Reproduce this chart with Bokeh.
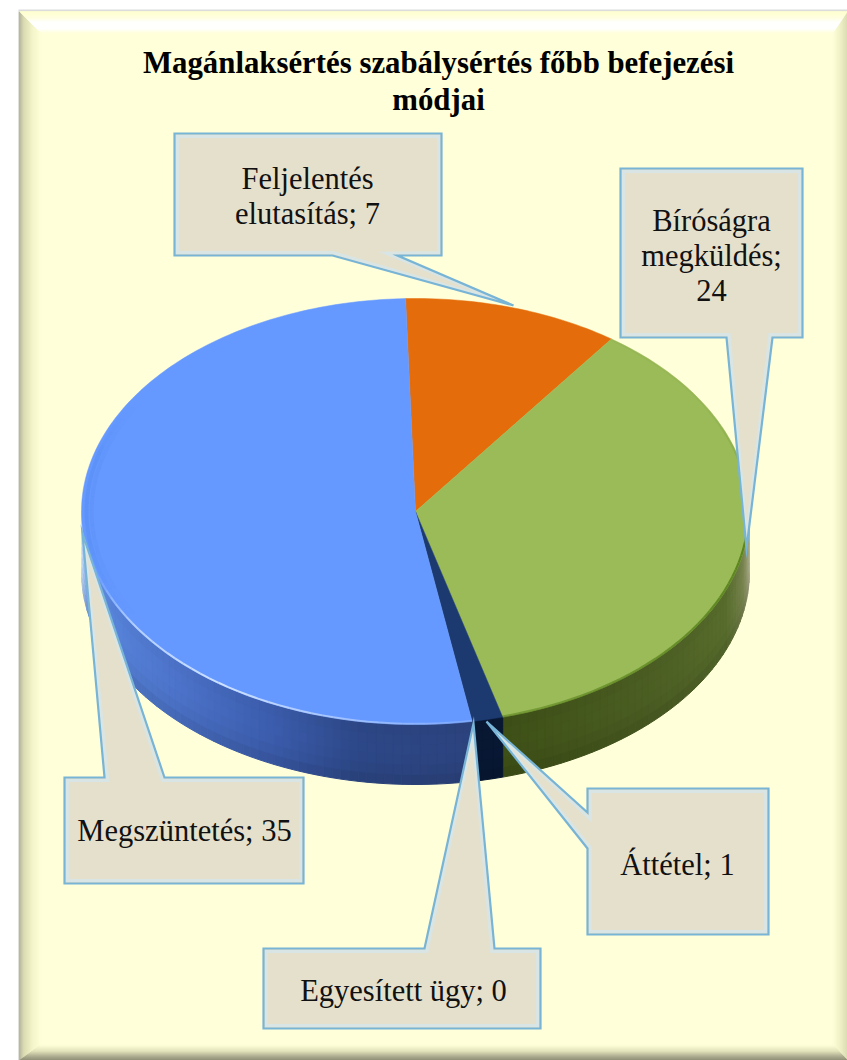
import numpy as np
from bokeh.plotting import figure
from bokeh.models import Range1d
from bokeh.core.properties import value
from bokeh.embed import file_html
from bokeh.resources import INLINE

title_lines = ["Magánlaksértés szabálysértés főbb befejezési", "módjai"]
categories = ["Feljelentés elutasítás", "Bíróságra megküldés", "Áttétel", "Egyesített ügy", "Megszüntetés"]
values = [7, 24, 1, 0, 35]
label_lines = [["Feljelentés", "elutasítás; 7"], ["Bíróságra", "megküldés;", "24"], ["Áttétel; 1"],
               ["Egyesített ügy; 0"], ["Megszüntetés; 35"]]
top_colors = ["#E46C0A", "#9BBB59", "#1C3A70", "#1C3A70", "#6699FF"]

W, H = 847, 1060
p = figure(width=W, height=H, x_range=Range1d(0, W), y_range=Range1d(H, 0),
           output_backend="svg", toolbar_location=None, min_border=0)
p.axis.visible = False
p.grid.visible = False
p.outline_line_color = None
p.background_fill_color = "#FFFFFF"
p.border_fill_color = "#FFFFFF"


def hex2rgb(c):
    return np.array([int(c[i:i + 2], 16) for i in (1, 3, 5)], float)


def rgb2hex(a):
    a = np.clip(np.round(a), 0, 255).astype(int)
    return "#%02X%02X%02X" % tuple(a)


def ramp(stops, pos):
    xs = [s[0] for s in stops]
    cs = np.array([hex2rgb(s[1]) for s in stops])
    return np.array([np.interp(pos, xs, cs[:, k]) for k in range(3)])


# ---- chart area with bevelled frame
L, T, R, B = 19.0, 11.0, 847.0, 1060.0
BODY = "#FFFFD9"
p.quad(left=[L], right=[R], top=[T], bottom=[B], fill_color=BODY, line_color=None)
p.quad(left=[L - 1], right=[R], top=[T - 2], bottom=[T], fill_color="#DCDCDC", line_color=None)
p.quad(left=[L - 1], right=[L + 1], top=[T], bottom=[B], fill_color="#C4C4B8", line_color=None)

wid = {"top": 22, "left": 22, "right": 15, "bottom": 16}
ramps = {
    "top": [(0, "#FFFFCC"), (.30, "#FFFFE0"), (.5, "#FFFFFF"), (.8, "#FFFFFF"), (1, BODY)],
    "left": [(0, "#B0B09A"), (.2, "#D8D8B0"), (.6, "#F4F4C8"), (1, BODY)],
    "right": [(0, "#D8D8B0"), (.5, "#EFEFC4"), (1, BODY)],
    "bottom": [(0, "#85856E"), (.25, "#A5A58A"), (.6, "#E0E0B8"), (1, BODY)],
}
bx, by, bc = [], [], []
for side in ("left", "right", "bottom", "top"):
    n = wid[side]
    for i in range(n):
        f0, f1 = i / n, (i + 1) / n
        c = rgb2hex(ramp(ramps[side], (i + .5) / n))
        a0, a1 = {k: wid[k] * f0 for k in wid}, {k: wid[k] * f1 for k in wid}
        if side == "top":
            xs = [L + a0["left"], R - a0["right"], R - a1["right"], L + a1["left"]]
            ys = [T + a0["top"], T + a0["top"], T + a1["top"], T + a1["top"]]
        elif side == "bottom":
            xs = [L + a0["left"], R - a0["right"], R - a1["right"], L + a1["left"]]
            ys = [B - a0["bottom"], B - a0["bottom"], B - a1["bottom"], B - a1["bottom"]]
        elif side == "left":
            xs = [L + a0["left"], L + a1["left"], L + a1["left"], L + a0["left"]]
            ys = [T + a0["top"], T + a1["top"], B - a1["bottom"], B - a0["bottom"]]
        else:
            xs = [R - a0["right"], R - a1["right"], R - a1["right"], R - a0["right"]]
            ys = [T + a0["top"], T + a1["top"], B - a1["bottom"], B - a0["bottom"]]
        bx.append(xs); by.append(ys); bc.append(c)
p.patches(bx, by, fill_color=bc, line_color=bc, line_width=.6)

# ---- pie geometry, driven by the values
CX, CY, RX, RY, DEPTH = 415.0, 511.0, 334.0, 213.0, 60.0
START = -1.7
total = sum(values)
edges = START + np.concatenate([[0], np.cumsum(values)]) * 360.0 / total


def ex(t, s=1.0):
    return CX + s * RX * np.sin(np.radians(t))


def ey(t, s=1.0):
    return CY - s * RY * np.cos(np.radians(t))


wall_ramps = [
    None,
    [(90, "#D0D0B8"), (94, "#A8A888"), (102, "#74804C"), (112, "#566A2C"), (135, "#4A5C22"), (165, "#3C4E16")],
    [(0, "#081732"), (360, "#081732")],
    [(0, "#081732"), (360, "#081732")],
    [(165, "#2A4078"), (190, "#2C4684"), (205, "#3A5AA8"), (225, "#4A70C4"), (245, "#5580D4"), (258, "#6C96E2"),
     (266, "#B8CFEF"), (271, "#EEF2E6")],
]
V_POS = np.linspace(0, 1, 7)
V_MUL = np.interp((V_POS[:-1] + V_POS[1:]) / 2, [0, .1, .5, .85, 1], [.95, 1.02, 1.03, .97, .88])

# wall: full-height strips first, then bands from the bottom up so each overlaps the one below
wall = []
for i in range(len(values)):
    if values[i] == 0 or wall_ramps[i] is None:
        continue
    a0, a1 = max(edges[i], 90), min(edges[i + 1], 270)
    if a1 <= a0:
        continue
    ts = np.linspace(a0, a1, max(2, int((a1 - a0) / 1.5) + 1))
    for t0, t1 in zip(ts[:-1], ts[1:]):
        base = ramp(wall_ramps[i], (t0 + t1) / 2)
        wall.append((t0, t1, base))
for j in range(5, -1, -1):
    wx, wy, wc = [], [], []
    for t0, t1, base in wall:
        x0, x1 = ex(t0), ex(t1)
        y0, y1 = ey(t0), ey(t1)
        wx.append([x0, x1, x1, x0])
        wy.append([y0 + V_POS[0] * DEPTH, y1 + V_POS[0] * DEPTH, y1 + V_POS[j + 1] * DEPTH, y0 + V_POS[j + 1] * DEPTH])
        wc.append(rgb2hex(base * V_MUL[j]))
    p.patches(wx, wy, fill_color=wc, line_color=wc, line_width=1.0)

sx, sy, sc = [], [], []
for i in range(len(values)):
    if values[i] == 0:
        continue
    ts = np.linspace(edges[i], edges[i + 1], max(3, int(values[i] * 360 / total)))
    sx.append(np.concatenate([[CX], ex(ts)]))
    sy.append(np.concatenate([[CY], ey(ts)]))
    sc.append(top_colors[i])
p.patches(sx, sy, fill_color=sc, line_color=sc, line_width=.5)

# rim shading on the top faces
rx_, ry_, rc_, ra_, rw_ = [], [], [], [], []
blue0, blue1 = edges[-2], edges[-1] + 360
for t0, t1 in zip(np.arange(blue0, blue1 - 2, 2), np.arange(blue0 + 2, blue1, 2)):
    m = (t0 + t1) / 2
    rx_.append([ex(t0, .997), ex(t1, .997)]); ry_.append([ey(t0, .997), ey(t1, .997)])
    rc_.append("#D4E6FF"); ra_.append(float(np.interp(m, [170, 190, 215, 238, 250, 256], [.2, .5, .95, .7, .15, 0]))); rw_.append(2.0)
    for s, al in ((.985, .22), (.97, .12)):
        rx_.append([ex(t0, s), ex(t1, s)]); ry_.append([ey(t0, s), ey(t1, s)])
        rc_.append("#3F7FE0"); ra_.append(al * float(np.interp(m, [240, 262, 285, 300], [0, 1, 1, 0]))); rw_.append(4)
for t0 in np.arange(edges[1], edges[2], 2):
    t1 = min(t0 + 2, edges[2])
    m = (t0 + t1) / 2
    rx_.append([ex(t0, .997), ex(t1, .997)]); ry_.append([ey(t0, .997), ey(t1, .997)])
    rc_.append("#4F7A14"); ra_.append(float(np.interp(m, [60, 85, 100, 160], [.05, .25, .85, .5]))); rw_.append(2.2)
p.multi_line(rx_, ry_, line_color=rc_, line_alpha=ra_, line_width=rw_)

# ---- callouts
callouts = [
    [(174, 133), (441, 133), (441, 255), (397, 255), (513, 305), (332, 255), (174, 255)],
    [(620, 168), (802, 168), (802, 337), (772, 337), (746, 548), (726, 337), (620, 337)],
    [(587, 788), (768, 788), (768, 934), (587, 934), (587, 848), (486, 721), (587, 812)],
    [(263, 948), (424, 948), (473, 723), (494, 948), (540, 948), (540, 1028), (263, 1028)],
    [(64, 777), (104, 777), (82, 533), (164, 777), (303, 777), (303, 883), (64, 883)],
]


def inset(poly, d):
    q = np.array(poly, float)
    n = len(q)
    area = 0.5 * sum(q[i][0] * q[(i + 1) % n][1] - q[(i + 1) % n][0] * q[i][1] for i in range(n))
    sign = 1 if area > 0 else -1
    out = []
    for i in range(n):
        a, b, c = q[i - 1], q[i], q[(i + 1) % n]
        e1, e2 = (b - a) / np.linalg.norm(b - a), (c - b) / np.linalg.norm(c - b)
        n1 = sign * np.array([-e1[1], e1[0]])
        n2 = sign * np.array([-e2[1], e2[0]])
        bis = n1 + n2
        bis = bis / max(np.linalg.norm(bis), 1e-6)
        k = d / max(np.dot(bis, n1), .25)
        out.append(b + bis * k)
    return np.array(out)


cx = [[q[0] for q in c] for c in callouts]
cy = [[q[1] for q in c] for c in callouts]
p.patches(cx, cy, fill_color="#E5E0CC", line_color=None)
inner = [inset(c, 3.0) for c in callouts]
p.patches([a[:, 0] for a in inner], [a[:, 1] for a in inner], fill_color=None,
          line_color="#D6E6EA", line_alpha=.8, line_width=3, line_join="miter")
p.patches(cx, cy, fill_color=None, line_color="#78B4D6", line_width=2.2, line_join="miter")

# ---- texts
centres = [(307, 178, 35), (711, 220, 35), (677, 864, 35), (403, 990, 35), (184, 830, 35)]
tx, ty, tt = [], [], []
for lines, (xc, y0, dy) in zip(label_lines, centres):
    for k, line in enumerate(lines):
        tx.append(xc); ty.append(y0 + k * dy); tt.append(line)
p.text(tx, ty, text=tt, text_font=value("Liberation Serif"), text_font_size="30.5px", text_color="#111111",
       text_align="center", text_baseline="middle")
p.text([438, 438], [62, 99], text=title_lines, text_font=value("Liberation Serif"), text_font_size="30.8px",
       text_font_style="bold", text_color="#000000", text_align="center", text_baseline="middle")

open("out.html", "w").write(file_html(p, INLINE))
